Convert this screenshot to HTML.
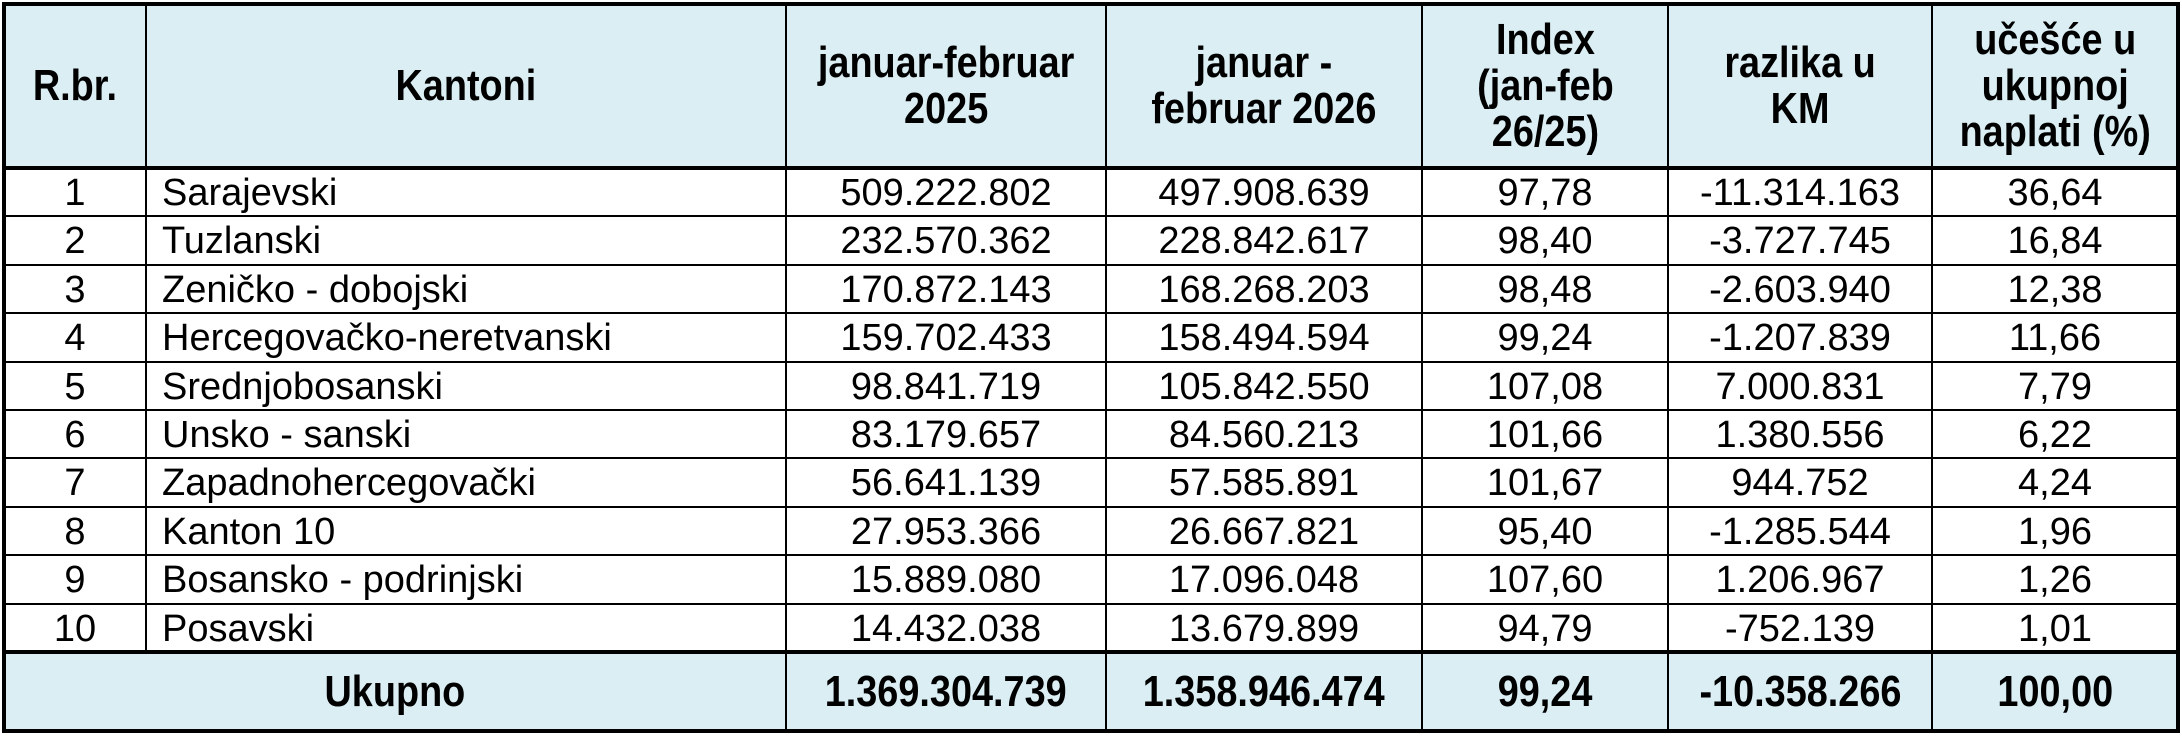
<!DOCTYPE html>
<html><head><meta charset="utf-8">
<style>
html,body{margin:0;padding:0;background:#fff;}
#w{position:relative;width:2182px;height:736px;overflow:hidden;font-family:"Liberation Sans",Arial,sans-serif;color:#000;}
.bg{position:absolute;background:#daeef3;}
.l{position:absolute;background:#000;}
.c{position:absolute;display:flex;align-items:center;justify-content:center;text-align:center;font-size:38px;white-space:nowrap;}
.h{font-weight:bold;font-size:44px;line-height:46px;}
.h span,.t span{display:inline-block;transform:scaleX(0.86);}
.t{font-weight:bold;font-size:44px;}
.k{justify-content:flex-start;padding-left:16px;box-sizing:border-box;}
</style></head><body><div id="w">
<div class="bg" style="left:4px;top:4px;width:2174px;height:164px"></div>
<div class="bg" style="left:4px;top:652px;width:2174px;height:79px"></div>
<script>
var xs=[4,146,786,1106,1422,1668,1932,2178];
var top0=4,hb=168,tt=652,bot=731;
var rh=(tt-hb)/10;
var w=document.getElementById('w');
function add(cls,st,html){var d=document.createElement('div');d.className=cls;d.style.cssText=st;if(html!==undefined)d.innerHTML=html;w.appendChild(d);}
add('l','left:2px;top:2px;width:2178px;height:4px');
add('l','left:2px;top:'+(hb-2)+'px;width:2178px;height:4px');
add('l','left:2px;top:'+(tt-2)+'px;width:2178px;height:4px');
add('l','left:2px;top:'+(bot-2)+'px;width:2178px;height:4px');
for(var i=1;i<10;i++){add('l','left:2px;top:'+Math.round(hb+i*rh-1)+'px;width:2178px;height:2px');}
for(var j=0;j<xs.length;j++){
 var wd=(j==0||j==xs.length-1)?4:2;
 if(j==1){ add('l','left:'+(xs[j]-1)+'px;top:2px;width:2px;height:'+(tt-2)+'px'); continue;}
 add('l','left:'+(xs[j]-wd/2)+'px;top:2px;width:'+wd+'px;height:'+(bot)+'px');
}
var hdr=['R.br.','Kantoni','januar-februar<br>2025','januar -<br>februar 2026','Index<br>(jan-feb<br>26/25)','razlika u<br>KM','učešće u<br>ukupnoj<br>naplati (%)'];
for(var j=0;j<7;j++){add('c h','left:'+xs[j]+'px;top:'+top0+'px;width:'+(xs[j+1]-xs[j])+'px;height:'+(hb-top0)+'px','<span>'+hdr[j]+'</span>');}
var rows=[
['1','Sarajevski','509.222.802','497.908.639','97,78','-11.314.163','36,64'],
['2','Tuzlanski','232.570.362','228.842.617','98,40','-3.727.745','16,84'],
['3','Zeničko - dobojski','170.872.143','168.268.203','98,48','-2.603.940','12,38'],
['4','Hercegovačko-neretvanski','159.702.433','158.494.594','99,24','-1.207.839','11,66'],
['5','Srednjobosanski','98.841.719','105.842.550','107,08','7.000.831','7,79'],
['6','Unsko - sanski','83.179.657','84.560.213','101,66','1.380.556','6,22'],
['7','Zapadnohercegovački','56.641.139','57.585.891','101,67','944.752','4,24'],
['8','Kanton 10','27.953.366','26.667.821','95,40','-1.285.544','1,96'],
['9','Bosansko - podrinjski','15.889.080','17.096.048','107,60','1.206.967','1,26'],
['10','Posavski','14.432.038','13.679.899','94,79','-752.139','1,01']];
for(var i=0;i<10;i++){var y=Math.round(hb+i*rh);var h=Math.round(rh);
 for(var j=0;j<7;j++){add('c'+(j==1?' k':''),'left:'+xs[j]+'px;top:'+(y+1)+'px;width:'+(xs[j+1]-xs[j])+'px;height:'+h+'px',rows[i][j]);}}
var tot=['Ukupno','1.369.304.739','1.358.946.474','99,24','-10.358.266','100,00'];
add('c t','left:'+xs[0]+'px;top:'+tt+'px;width:'+(xs[2]-xs[0])+'px;height:'+(bot-tt)+'px','<span>'+tot[0]+'</span>');
for(var j=2;j<7;j++){add('c t','left:'+xs[j]+'px;top:'+tt+'px;width:'+(xs[j+1]-xs[j])+'px;height:'+(bot-tt)+'px','<span>'+tot[j-1]+'</span>');}
</script>
</div></body></html>
